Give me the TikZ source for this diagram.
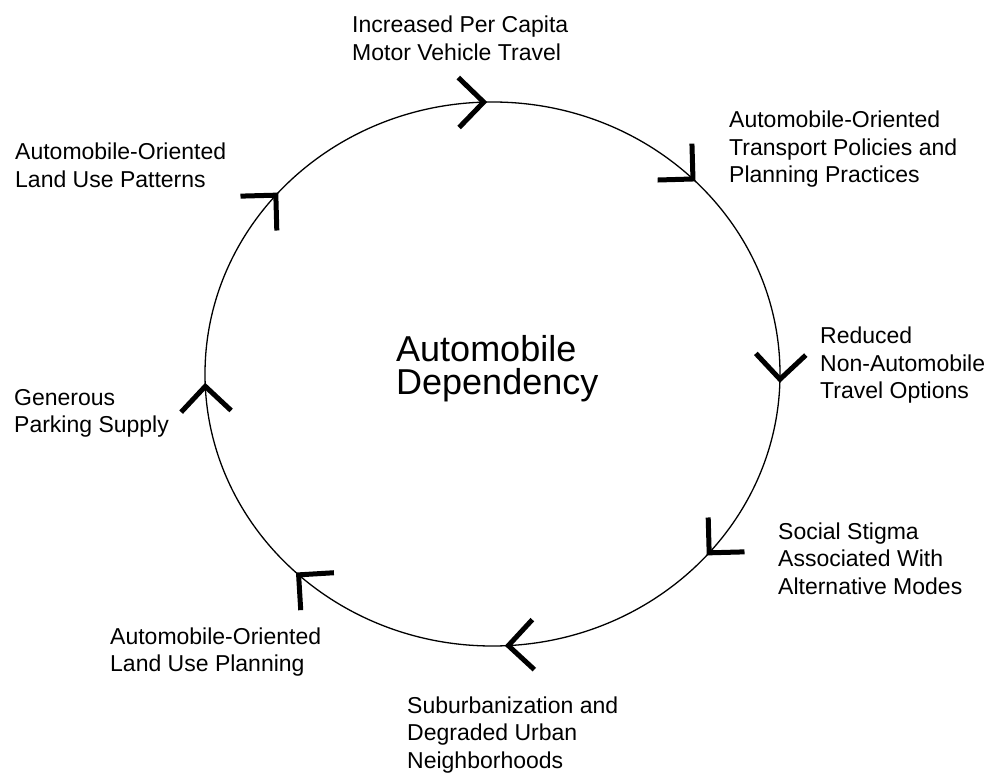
\documentclass[tikz,border=0pt]{standalone}
\usepackage{fontspec}
\setmainfont{Liberation Sans}
\usetikzlibrary{arrows.meta,decorations.markings}
\tikzset{bigvee/.tip={Straight Barb[length=25pt,width=50pt,line width=5pt]}}

\begin{document}
\begin{tikzpicture}[x=1pt,y=-1pt,
  cause/.style={anchor=base west,align=left,inner sep=0pt,font=\fontsize{23}{27.5}\selectfont},
  cycle/.style={line width=1.3pt,postaction={decorate},decoration={markings,
    mark=at position 0.005 with {\arrow{bigvee}},
    mark=at position 0.114 with {\arrow{bigvee}},
    mark=at position 0.243 with {\arrow{bigvee}},
    mark=at position 0.372 with {\arrow{bigvee}},
    mark=at position 0.495 with {\arrow{bigvee}},
    mark=at position 0.614 with {\arrow{bigvee}},
    mark=at position 0.747 with {\arrow{bigvee}},
    mark=at position 0.877 with {\arrow{bigvee}}}}]
\useasboundingbox (0,0) rectangle (991,775);
\coordinate (ctr) at (492.5,374);
\draw[cycle] (ctr) ++(287.5pt,0pt) arc[start angle=0,end angle=-360,x radius=287.5pt,y radius=272pt];
% base anchor sits on the last line
\node[anchor=base west,align=left,inner sep=0pt,font=\fontsize{36}{33}\selectfont] (dep) at (396,395) {Automobile\\Dependency};
\node[cause] (travel) at (352,60.5) {Increased Per Capita\\Motor Vehicle Travel};
\node[cause] (policy) at (729,183) {Automobile-Oriented\\Transport Policies and\\Planning Practices};
\node[cause] (options) at (820,399) {Reduced\\Non-Automobile\\Travel Options};
\node[cause] (stigma) at (778,594) {Social Stigma\\Associated With\\Alternative Modes};
\node[cause] (suburb) at (407,768) {Suburbanization and\\Degraded Urban\\Neighborhoods};
\node[cause] (planning) at (110,671.5) {Automobile-Oriented\\Land Use Planning};
\node[cause] (parking) at (14,432.5) {Generous\\Parking Supply};
\node[cause] (patterns) at (15,187.5) {Automobile-Oriented\\Land Use Patterns};
\end{tikzpicture}
\end{document}
